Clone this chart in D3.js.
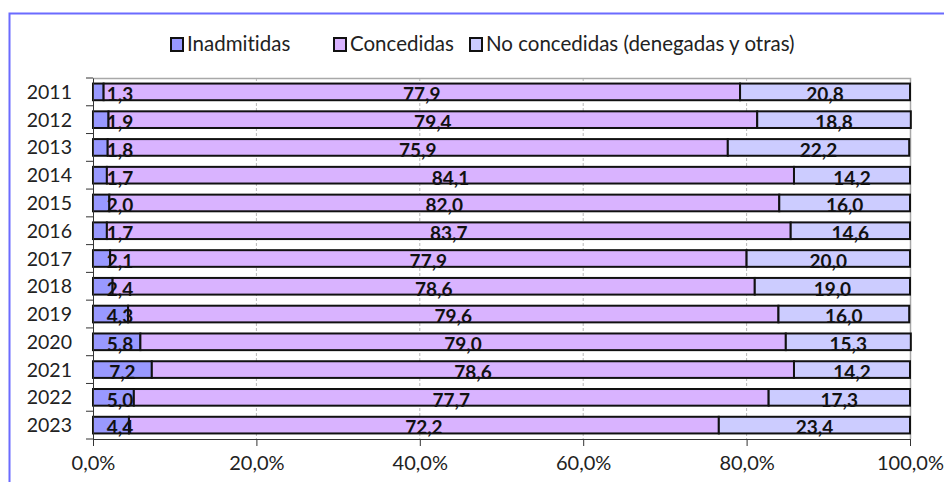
<!DOCTYPE html>
<html>
<head>
  <meta charset="utf-8">
  <title>Inadmitidas, concedidas y no concedidas</title>
  <script src="https://d3js.org/d3.v7.min.js"></script>
  <style>
    body { margin: 0; background: #fff; }
    text { font-family: Lato, "Open Sans", sans-serif; fill: #222; font-variant-ligatures: none; }
  </style>
</head>
<body>
  <script>
    // datos (porcentajes por año)
    const years = ["2011","2012","2013","2014","2015","2016","2017","2018","2019","2020","2021","2022","2023"];
    const inadmitidas = [1.3, 1.9, 1.8, 1.7, 2.0, 1.7, 2.1, 2.4, 4.3, 5.8, 7.2, 5.0, 4.4];
    const concedidas = [77.9, 79.4, 75.9, 84.1, 82.0, 83.7, 77.9, 78.6, 79.6, 79.0, 78.6, 77.7, 72.2];
    const noConcedidas = [20.8, 18.8, 22.2, 14.2, 16.0, 14.6, 20.0, 19.0, 16.0, 15.3, 14.2, 17.3, 23.4];
    const seriesNames = ["Inadmitidas", "Concedidas", "No concedidas (denegadas y otras)"];
    const xTicks = [0, 20, 40, 60, 80, 100];

    const colors = ["#9999ff", "#d9b3ff", "#ccccff"];
    const W = 944, H = 482;
    const margin = {top: 78, right: 34, bottom: 43, left: 93};
    const width = W - margin.left - margin.right;
    const height = H - margin.top - margin.bottom;

    const svg = d3.select("body").append("svg")
      .attr("width", W).attr("height", H);

    // marco exterior
    svg.append("path")
      .attr("d", `M9.5,${H} V13.5 H${W}`)
      .attr("fill", "none").attr("stroke", "#6b6bff").attr("stroke-width", 2);

    const g = svg.append("g").attr("transform", `translate(${margin.left},${margin.top})`);

    const x = d3.scaleLinear().domain([0, 100]).range([0, width]);
    const y = d3.scaleBand().domain(years).range([0, height])
      .paddingInner(0.4).paddingOuter(0.2);

    // cuadrícula y borde del área de trazado
    g.selectAll(".grid").data(xTicks.slice(1, -1)).enter().append("line")
      .attr("x1", d => x(d)).attr("x2", d => x(d))
      .attr("y1", 0).attr("y2", height)
      .attr("stroke", "#b8b8b8").attr("stroke-dasharray", "3,2");
    g.append("path")
      .attr("d", `M0,0.5 H${width + 0.5} V${height}`)
      .attr("fill", "none").attr("stroke", "#a8a8a8").attr("stroke-width", 1.5);

    // barras apiladas
    const rows = years.map((yr, i) => ({year: yr, vals: [inadmitidas[i], concedidas[i], noConcedidas[i]]}));
    const stack = d3.stack().keys([0, 1, 2]).value((d, k) => d.vals[k]);
    const stacked = stack(rows);

    stacked.forEach((layer, k) => {
      g.selectAll(".bar" + k).data(layer).enter().append("rect")
        .attr("x", d => x(d[0]))
        .attr("y", d => y(d.data.year))
        .attr("width", d => x(d[1]) - x(d[0]))
        .attr("height", y.bandwidth())
        .attr("fill", colors[k])
        .attr("stroke", "#111").attr("stroke-width", 2);
    });

    // etiquetas: las del primer tramo se apartan del eje
    stacked.forEach((layer, k) => {
      g.selectAll(".lab" + k).data(layer).enter().append("text")
        .attr("x", d => {
          const c = (x(d[0]) + x(d[1])) / 2;
          return k === 0 ? Math.max(c, 27) : c;
        })
        .attr("y", d => y(d.data.year) + y.bandwidth() + 1)
        .attr("text-anchor", "middle")
        .style("font-size", "19px").style("font-weight", "bold").style("fill", "#111")
        .text(d => d3.format(".1f")(d[1] - d[0]).replace(".", ","));
    });

    // ejes
    const yAxis = d3.axisLeft(y).tickSize(0).tickPadding(21);
    const yg = g.append("g").call(yAxis);
    yg.select(".domain").attr("stroke", "#333");
    yg.selectAll("text").style("font-size", "19.5px").attr("dy", "0.36em");
    // marcas entre categorías
    const bounds = years.map(d => y(d) - y.step() * y.paddingInner() / 2).concat([height]);
    g.selectAll(".ytick").data(bounds).enter().append("line")
      .attr("x1", -7).attr("x2", 0)
      .attr("y1", d => d).attr("y2", d => d)
      .attr("stroke", "#333");

    const xAxis = d3.axisBottom(x).tickValues(xTicks).tickSize(7).tickPadding(10)
      .tickFormat(d => d3.format(".1f")(d).replace(".", ",") + "%");
    const xg = g.append("g").attr("transform", `translate(0,${height})`).call(xAxis);
    xg.select(".domain").attr("stroke", "#333");
    xg.selectAll("line").attr("stroke", "#333");
    xg.selectAll("text").style("font-size", "20px");

    // leyenda
    const legendX = [171, 334, 470];
    const lg = svg.append("g").attr("transform", "translate(0,44)");
    seriesNames.forEach((name, i) => {
      lg.append("rect")
        .attr("x", legendX[i]).attr("y", -6).attr("width", 12).attr("height", 13)
        .attr("fill", colors[i]).attr("stroke", "#111").attr("stroke-width", 2);
      lg.append("text")
        .attr("x", legendX[i] + 16).attr("y", 0).attr("dy", "0.35em")
        .style("font-size", "20.5px")
        .text(name);
    });
  </script>
</body>
</html>
